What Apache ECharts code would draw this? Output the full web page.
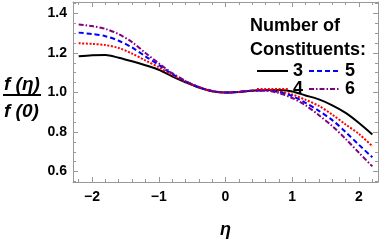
<!DOCTYPE html>
<html><head><meta charset="utf-8">
<script src="https://cdn.jsdelivr.net/npm/echarts@6/dist/echarts.min.js"></script>
<style>html,body{margin:0;padding:0;background:#fff}#c{width:382px;height:244px}</style>
</head><body><div id="c"></div>
<script>
const eta = [-2.2,-2.0,-1.8,-1.6,-1.4,-1.2,-1.0,-0.8,-0.6,-0.4,-0.2,0,0.2,0.4,0.6,0.8,1.0,1.2,1.4,1.6,1.8,2.0,2.2];
const n3 = [1.183,1.189,1.190,1.176,1.158,1.138,1.115,1.082,1.052,1.025,1.006,1.0,1.003,1.009,1.013,1.012,1.005,0.985,0.965,0.935,0.897,0.846,0.788];
const n4 = [1.249,1.246,1.240,1.225,1.197,1.162,1.128,1.089,1.055,1.026,1.007,1.0,1.003,1.009,1.012,1.006,0.990,0.963,0.932,0.888,0.838,0.790,0.728];
const n5 = [1.303,1.296,1.285,1.262,1.228,1.183,1.140,1.094,1.057,1.027,1.007,1.0,1.003,1.009,1.011,1.002,0.982,0.948,0.907,0.860,0.800,0.735,0.672];
const n6 = [1.344,1.336,1.322,1.295,1.255,1.200,1.148,1.098,1.059,1.028,1.008,1.0,1.003,1.009,1.009,0.997,0.972,0.935,0.885,0.830,0.765,0.695,0.626];
const seriesNames = ['3','4','5','6'];
const xMajor = [-2,-1,0,1,2];
const yMajor = [0.6,0.8,1.0,1.2,1.4];
const xMinor = [-2.2,-1.8,-1.6,-1.4,-1.2,-0.8,-0.6,-0.4,-0.2,0.2,0.4,0.6,0.8,1.2,1.4,1.6,1.8,2.2];
const yMinor = [0.55,0.65,0.7,0.75,0.85,0.9,0.95,1.05,1.1,1.15,1.25,1.3,1.35,1.45];

const FONT = 'Liberation Sans';
const AX = '#999';
const XMIN = -2.285, XMAX = 2.285, YMIN = 0.547, YMAX = 1.458;

function xAx(pos, ticks, len, labels, line) {
  return {
    type: 'value', position: pos, min: XMIN, max: XMAX,
    axisLine: {show: line, onZero: false, lineStyle: {color: AX, width: 1}},
    axisTick: {show: true, inside: true, length: len, customValues: ticks, lineStyle: {color: AX}},
    axisLabel: labels ? {show: true, customValues: ticks, margin: 8, color: '#000', fontFamily: FONT, fontWeight: 'bold', fontSize: 14,
      formatter: v => String(v).replace('-', '\u2212')} : {show: false},
    splitLine: {show: false}
  };
}
function yAx(pos, ticks, len, labels, line) {
  return {
    type: 'value', position: pos, min: YMIN, max: YMAX,
    axisLine: {show: line, onZero: false, lineStyle: {color: AX, width: 1}},
    axisTick: {show: true, inside: true, length: len, customValues: ticks, lineStyle: {color: AX}},
    axisLabel: labels ? {show: true, customValues: ticks, margin: 6, color: '#000', fontFamily: FONT, fontWeight: 'bold', fontSize: 14,
      formatter: v => v.toFixed(1)} : {show: false},
    splitLine: {show: false}
  };
}
const pairs = arr => eta.map((e, i) => [e, arr[i]]);
const styles = [
  {color: '#000000', type: 'solid'},
  {color: '#ff0000', type: [2, 1.6]},
  {color: '#0000ff', type: [5, 3]},
  {color: '#800080', type: [5, 2, 1.5, 2]}
];
const dataSets = [n3, n4, n5, n6];
const legendText = {fontFamily: FONT, fontWeight: 'bold', fontSize: 18, color: '#000'};

const chart = echarts.init(document.getElementById('c'), null, {renderer: 'canvas'});
chart.setOption({
  animation: false,
  grid: {left: 73, right: 4, top: 2, bottom: 52},
  title: {text: 'Number of\nConstituents:', left: 245, top: 9,
    textStyle: {fontFamily: FONT, fontWeight: 'bold', fontSize: 18, lineHeight: 24, color: '#000'}},
  legend: [
    {data: ['3', '5'], left: 256, top: 62, itemWidth: 31, itemHeight: 14, itemGap: 5, padding: 0,
      itemStyle: {opacity: 0}, textStyle: legendText},
    {data: ['4', '6'], left: 256, top: 80, itemWidth: 31, itemHeight: 14, itemGap: 5, padding: 0,
      itemStyle: {opacity: 0}, textStyle: legendText}
  ],
  xAxis: [
    Object.assign(xAx('bottom', xMajor, 5, true, true), {name: '\u03b7', nameLocation: 'middle', nameGap: 39,
      nameTextStyle: {fontFamily: FONT, fontWeight: 'bold', fontStyle: 'italic', fontSize: 18, color: '#000'}}),
    xAx('bottom', xMinor, 3, false, false),
    xAx('top', xMajor, 5, false, true),
    xAx('top', xMinor, 3, false, false)
  ],
  yAxis: [
    yAx('left', yMajor, 5, true, true),
    yAx('left', yMinor, 3, false, false),
    yAx('right', yMajor, 5, false, true),
    yAx('right', yMinor, 3, false, false)
  ],
  graphic: [
    {type: 'text', left: 4, top: 75, style: {text: 'f (\u03b7)', fontFamily: FONT, fontWeight: 'bold', fontStyle: 'italic', fontSize: 19, fill: '#000'}},
    {type: 'rect', shape: {x: 3, y: 94, width: 38, height: 2}, style: {fill: '#000'}},
    {type: 'text', left: 4, top: 102, style: {text: 'f (0)', fontFamily: FONT, fontWeight: 'bold', fontStyle: 'italic', fontSize: 19, fill: '#000'}}
  ],
  series: dataSets.map((d, i) => ({
    name: seriesNames[i], type: 'line', data: pairs(d), smooth: 0.3, symbol: 'none',
    xAxisIndex: 0, yAxisIndex: 0,
    lineStyle: {color: styles[i].color, type: styles[i].type, width: 2},
    itemStyle: {color: styles[i].color}
  }))
});
</script></body></html>
